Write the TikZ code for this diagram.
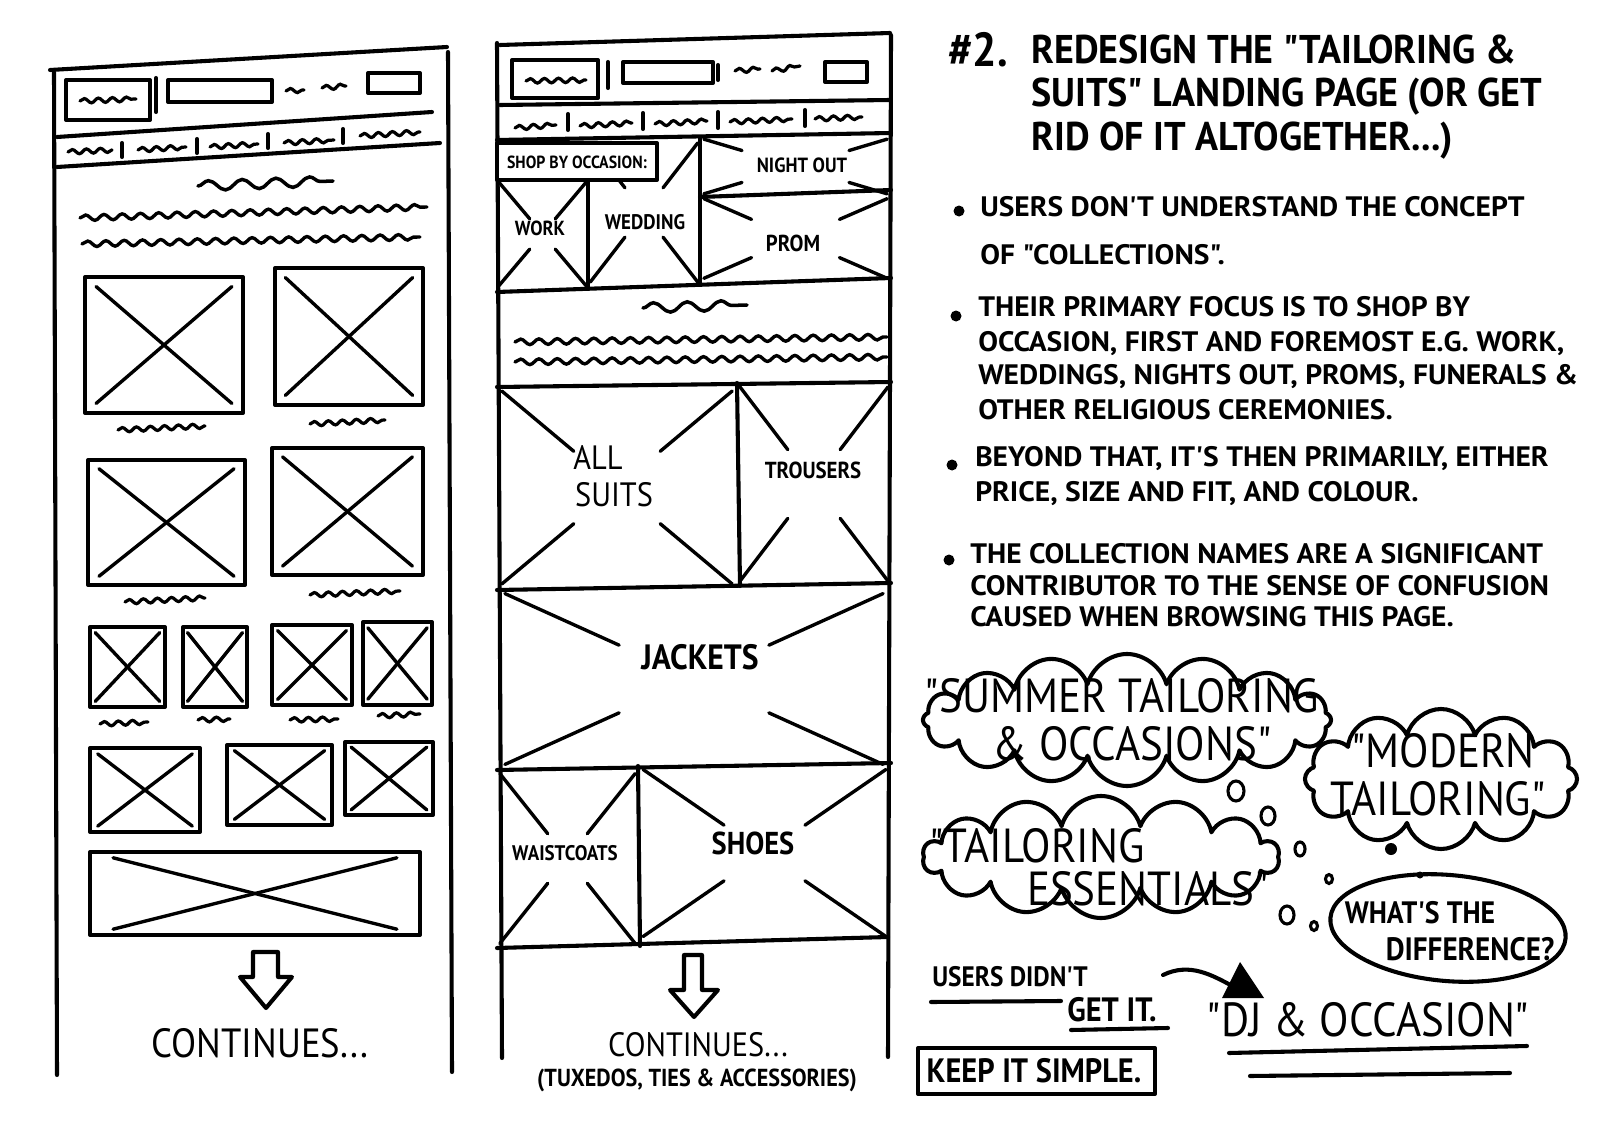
\documentclass[tikz,border=0pt]{standalone}
\usepackage{fontspec}
\newfontfamily\hand{PT Sans}[FakeStretch=0.9]
\newfontfamily\handw{PT Sans}[FakeStretch=1.05]
\newfontfamily\handt{PT Sans}[FakeStretch=0.95]
\usetikzlibrary{calc,decorations.pathmorphing,shapes.symbols,shapes.geometric}
\newcommand\hfs[1]{\fontsize{#1}{#1}\selectfont}
\tikzset{
  ink/.style={line width=2.9pt, line cap=round, line join=round},
  xink/.style={line width=2.4pt, line cap=round},
  wave/.style={line width=2.4pt, line cap=round, decorate, decoration={snake, amplitude=2pt, segment length=13pt}},
  squig/.style={line width=2.3pt, line cap=round, decorate, decoration={snake, amplitude=1.6pt, segment length=10pt}},
  bigsquig/.style={line width=2.5pt, line cap=round, decorate, decoration={snake, amplitude=3.5pt, segment length=24pt}},
  lbl/.style={font=\hand\bfseries, inner sep=0pt},
  txt/.style={anchor=west, inner sep=0pt, font=\handw\bfseries\hfs{20}},
  ttl/.style={anchor=west, inner sep=0pt, font=\handt\bfseries\hfs{28.5}},
  cloudtxt/.style={inner sep=0pt, font=\hand\hfs{34}},
  bub/.style={line width=2.2pt},
}
\newcommand\wfxbox[4]{%
  \draw[ink] (#1,#2) rectangle (#3,#4);
  \draw[xink] ($(#1,#2)!0.07!(#3,#4)$) -- ($(#1,#2)!0.93!(#3,#4)$);
  \draw[xink] ($(#1,#4)!0.07!(#3,#2)$) -- ($(#1,#4)!0.93!(#3,#2)$);}
\newcommand\wfpx[5]{%
  \draw[xink] ($(#1,#2)!0.02!(#3,#4)$) -- ($(#1,#2)!#5!(#3,#4)$);
  \draw[xink] ($(#3,#4)!0.02!(#1,#2)$) -- ($(#3,#4)!#5!(#1,#2)$);
  \draw[xink] ($(#1,#4)!0.02!(#3,#2)$) -- ($(#1,#4)!#5!(#3,#2)$);
  \draw[xink] ($(#3,#2)!0.02!(#1,#4)$) -- ($(#3,#2)!#5!(#1,#4)$);}
\begin{document}
\begin{tikzpicture}[x=0.025cm, y=-0.025cm]
\fill[white] (0,0) rectangle (1600,1130);
\useasboundingbox (0,0) rectangle (1600,1130);

%% ================= LEFT COLUMN =================
\draw[ink] (50,70) -- (447,47);
\draw[ink] (54,72) -- (57,1075);
\draw[ink] (448,52) -- (452,1072);
% header
\draw[ink] (66,80) rectangle (150,120);
\draw[squig] (80,101) -- (136,99);
\draw[ink] (156,78) -- (156,112);
\draw[ink] (168,80) rectangle (272,102);
\draw[squig] (286,91) -- (304,90);
\draw[squig] (322,88) -- (346,86);
\draw[ink] (368,73) rectangle (420,93);
\draw[ink] (57,137) -- (432,112);
% nav
\draw[squig] (68,152) -- (112,150);
\draw[ink] (122,143) -- (122,157);
\draw[squig] (138,150) -- (186,147);
\draw[ink] (197,139) -- (197,153);
\draw[squig] (210,147) -- (258,144);
\draw[ink] (268,134) -- (268,148);
\draw[squig] (284,143) -- (334,140);
\draw[ink] (343,129) -- (343,143);
\draw[squig] (360,136) -- (420,132);
\draw[ink] (57,167) -- (440,143);
% intro text
\draw[bigsquig] (198,186) -- (333,181);
\draw[wave] (80,218) -- (427,207);
\draw[wave] (82,244) -- (420,237);
% product grid
\wfxbox{85}{277}{243}{413}
\wfxbox{275}{268}{423}{405}
\draw[squig] (118,430) -- (205,426);
\draw[squig] (310,424) -- (385,420);
\wfxbox{88}{460}{245}{585}
\wfxbox{272}{448}{423}{575}
\draw[squig] (125,602) -- (205,598);
\draw[squig] (310,595) -- (400,591);
\wfxbox{90}{627}{165}{707}
\wfxbox{183}{627}{247}{707}
\wfxbox{272}{625}{352}{705}
\wfxbox{363}{622}{432}{705}
\draw[squig] (100,724) -- (148,722);
\draw[squig] (198,720) -- (230,719);
\draw[squig] (290,720) -- (338,719);
\draw[squig] (378,716) -- (420,714);
\wfxbox{90}{748}{200}{832}
\wfxbox{227}{745}{332}{825}
\wfxbox{345}{742}{433}{815}
\wfxbox{90}{852}{420}{935}
% continues
\draw[ink, fill=white] (253,952) -- (278,952) -- (278,977) -- (292,977) -- (266,1008) -- (240,977) -- (253,977) -- cycle;
\node[lbl, font=\hand\hfs{29}] (lcont) at (260,1043) {CONTINUES...};

%% ================= CENTRE COLUMN =================
\draw[ink] (500,45) -- (890,33);
\draw[ink] (497,43) -- (502,1058);
\draw[ink] (891,35) -- (888,1057);
% header
\draw[ink] (512,60) rectangle (598,98);
\draw[squig] (526,81) -- (586,80);
\draw[ink] (608,62) -- (608,88);
\draw[ink] (623,62) rectangle (713,83);
\draw[ink] (718,65) -- (718,80);
\draw[squig] (735,71) -- (760,69);
\draw[squig] (772,71) -- (800,66);
\draw[ink] (825,62) rectangle (867,82);
\draw[ink] (500,105) -- (890,100);
% nav
\draw[squig] (515,128) -- (556,125);
\draw[ink] (568,114) -- (568,130);
\draw[squig] (580,126) -- (632,123);
\draw[ink] (643,113) -- (643,129);
\draw[squig] (655,124) -- (707,121);
\draw[ink] (718,112) -- (718,128);
\draw[squig] (730,122) -- (792,119);
\draw[ink] (805,110) -- (805,126);
\draw[squig] (815,119) -- (862,117);
\draw[ink] (497,140) -- (891,133);
% shop by occasion
\wfpx{497}{180}{588}{288}{0.36}
\wfpx{588}{140}{700}{285}{0.33}
\wfpx{700}{138}{891}{195}{0.22}
\wfpx{700}{197}{891}{280}{0.27}
\draw[ink] (588,180) -- (588,288);
\draw[ink] (700,138) -- (700,283);
\draw[ink] (700,197) -- (891,190);
\draw[ink, fill=white] (497,143) rectangle (657,180);
\draw[ink] (497,292) -- (891,278);
\node[lbl, font=\hand\bfseries\hfs{12.5}] (shop) at (577,162) {SHOP BY OCCASION:};
\node[lbl, font=\hand\bfseries\hfs{14.5}] (work) at (540,228) {WORK};
\node[lbl, font=\hand\bfseries\hfs{15}] (wedding) at (645,222) {WEDDING};
\node[lbl, font=\hand\bfseries\hfs{14.6}] (night) at (802,165) {NIGHT OUT};
\node[lbl, font=\hand\bfseries\hfs{16.4}] (prom) at (793,243) {PROM};
% intro text
\draw[bigsquig] (643,308) -- (747,305);
\draw[wave] (515,342) -- (887,337);
\draw[wave] (515,362) -- (887,357);
\draw[ink] (497,387) -- (891,382);
% categories
\wfpx{497}{387}{737}{588}{0.32}
\wfpx{737}{383}{891}{585}{0.33}
\draw[ink] (737,383) -- (740,586);
\draw[ink] (497,590) -- (891,583);
\wfpx{497}{590}{891}{768}{0.31}
\draw[ink] (497,770) -- (891,763);
\wfpx{497}{770}{638}{947}{0.36}
\wfpx{638}{766}{891}{940}{0.34}
\draw[ink] (638,766) -- (640,946);
\draw[ink] (497,948) -- (888,937);
\node[lbl, font=\hand\hfs{24}] (all) at (598,457) {ALL};
\node[lbl, font=\hand\hfs{24}] (suits) at (614,495) {SUITS};
\node[lbl, font=\hand\bfseries\hfs{16.5}] (trousers) at (813,470) {TROUSERS};
\node[lbl, font=\hand\bfseries\hfs{25}] (jackets) at (700,657) {JACKETS};
\node[lbl, font=\hand\bfseries\hfs{15}] (waist) at (565,853) {WAISTCOATS};
\node[lbl, font=\hand\bfseries\hfs{22.5}] (shoes) at (753,843) {SHOES};
% continues
\draw[ink, fill=white] (684,955) -- (702,955) -- (702,990) -- (718,990) -- (694,1017) -- (670,990) -- (684,990) -- cycle;
\node[lbl, font=\hand\hfs{24}] (ccont) at (698,1045) {CONTINUES...};
\node[lbl, font=\hand\bfseries\hfs{17.5}] (ccont2) at (697,1080) {(TUXEDOS, TIES \& ACCESSORIES)};

%% ================= NOTES =================
\node[ttl, font=\hand\bfseries\hfs{34}] (t0) at (948,50) {\#2.};
\node[ttl] (t1) at (1031,49) {REDESIGN THE "TAILORING \&};
\node[ttl] (t2) at (1031,97) {SUITS" LANDING PAGE (OR GET};
\node[ttl] (t3) at (1031,141) {RID OF IT ALTOGETHER...)};

\fill (959,211) circle (5.5);
\node[txt] (b1a) at (980,207) {USERS DON'T UNDERSTAND THE CONCEPT};
\node[txt] (b1b) at (980,255) {OF "COLLECTIONS".};
\fill (956,316) circle (5.5);
\node[txt] (b2a) at (978,307) {THEIR PRIMARY FOCUS IS TO SHOP BY};
\node[txt] (b2b) at (978,344) {OCCASION, FIRST AND FOREMOST E.G. WORK,};
\node[txt] (b2c) at (978,377) {WEDDINGS, NIGHTS OUT, PROMS, FUNERALS \&};
\node[txt] (b2d) at (978,410) {OTHER RELIGIOUS CEREMONIES.};
\fill (952,465) circle (5.5);
\node[txt] (b3a) at (975,459) {BEYOND THAT, IT'S THEN PRIMARILY, EITHER};
\node[txt] (b3b) at (975,494) {PRICE, SIZE AND FIT, AND COLOUR.};
\fill (949,560) circle (5.5);
\node[txt] (b4a) at (970,554) {THE COLLECTION NAMES ARE A SIGNIFICANT};
\node[txt] (b4b) at (970,586) {CONTRIBUTOR TO THE SENSE OF CONFUSION};
\node[txt] (b4c) at (970,617) {CAUSED WHEN BROWSING THIS PAGE.};

% clouds
\node[cloud, draw, ink, cloud puffs=16, cloud ignores aspect, minimum width=10.2cm, minimum height=3.3cm] (csummer) at (1127,720) {};
\node[cloudtxt] (summer1) at (1122,696) {"SUMMER TAILORING};
\node[cloudtxt] (summer2) at (1132,744) {\& OCCASIONS"};
\node[cloud, draw, ink, cloud puffs=12, cloud ignores aspect, minimum width=6.8cm, minimum height=3.5cm] (cmodern) at (1441,779) {};
\node[cloudtxt] (modern1) at (1443,751) {"MODERN};
\node[cloudtxt] (modern2) at (1438,799) {TAILORING"};
\node[cloud, draw, ink, cloud puffs=14, cloud ignores aspect, minimum width=8.9cm, minimum height=3.05cm] (cess) at (1101,857) {};
\node[cloudtxt] (ess1) at (1037,846) {"TAILORING};
\node[cloudtxt] (ess2) at (1148,889) {ESSENTIALS"};
\node[ellipse, draw, ink, minimum width=5.9cm, minimum height=2.65cm, rotate=-5] (diff) at (1448,928) {};
\node[lbl, font=\hand\bfseries\hfs{22}] (diff1) at (1420,913) {WHAT'S THE};
\node[lbl, font=\hand\bfseries\hfs{23}] (diff2) at (1470,949) {DIFFERENCE?};
% thought bubbles
\draw[bub] (1236,791) ellipse (8 and 10);
\draw[bub] (1268,816) ellipse (7 and 9);
\draw[bub] (1300,849) ellipse (5 and 7);
\draw[bub] (1329,879) ellipse (3.5 and 4.5);
\draw[bub] (1287,915) ellipse (7 and 9);
\draw[bub] (1314,926) ellipse (3.5 and 4.5);
\fill (1391,849) circle (6);
\fill (1420,875) circle (3.5);

% bottom notes
\node[lbl, font=\hand\bfseries\hfs{20}] (udt) at (1010,977) {USERS DIDN'T};
\draw[ink] (931,1002) -- (1061,1001);
\node[lbl, font=\hand\bfseries\hfs{24}] (getit) at (1112,1010) {GET IT.};
\draw[ink] (1071,1030) -- (1168,1028);
\coordinate (arrS) at (1163,975);
\coordinate (arrE) at (1236,988);
\draw[ink] (arrS) .. controls (1190,962) and (1212,975) .. (arrE);
\fill (1240,962) -- (1264,998) -- (1222,998) -- cycle;
\node[lbl, font=\hand\hfs{34}] (djocc) at (1368,1020) {"DJ \& OCCASION"};
\draw[ink] (1229,1053) -- (1527,1046);
\draw[ink] (1250,1076) -- (1510,1073);
\draw[ink] (918,1048) rectangle (1155,1094);
\node[lbl, font=\hand\bfseries\hfs{24}] (kiss) at (1034,1071) {KEEP IT SIMPLE.};
\end{tikzpicture}
\end{document}
